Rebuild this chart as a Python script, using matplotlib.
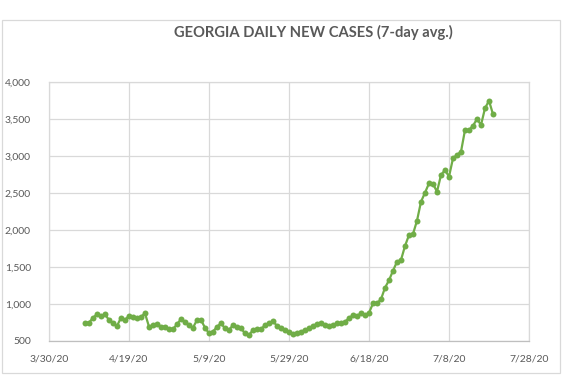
import matplotlib
matplotlib.use("Agg")
import matplotlib.pyplot as plt
import pandas as pd
from matplotlib.patches import Rectangle

plt.rcParams['font.family'] = ['Lato', 'DejaVu Sans']

# 7-day average of new cases, one value per day from 4/8/20
start_date = "2020-04-08"
cases = [747, 747, 815, 860, 838, 860, 784, 739, 703, 815,
         784, 842, 820, 806, 828, 874, 693, 716, 729, 693,
         693, 662, 662, 725, 797, 755, 720, 680, 784, 784,
         680, 604, 626, 693, 739, 671, 649, 716, 693, 671,
         604, 581, 649, 658, 658, 716, 739, 770, 703, 671,
         655, 626, 595, 612, 626, 649, 671, 707, 730, 747,
         716, 707, 716, 739, 739, 761, 807, 851, 838, 874,
         851, 880, 1009, 1009, 1064, 1220, 1320, 1450, 1571, 1595,
         1784, 1932, 1946, 2126, 2382, 2504, 2631, 2622, 2518, 2743,
         2811, 2720, 2969, 3014, 3058, 3351, 3351, 3409, 3500, 3419,
         3645, 3747, 3564]

tick_dates = ["2020-03-30", "2020-04-19", "2020-05-09", "2020-05-29",
              "2020-06-18", "2020-07-08", "2020-07-28"]
tick_labels = ["3/30/20", "4/19/20", "5/9/20", "5/29/20",
               "6/18/20", "7/8/20", "7/28/20"]
y_ticks = [500, 1000, 1500, 2000, 2500, 3000, 3500, 4000]

title = "GEORGIA DAILY NEW CASES (7-day avg.)"

dates = pd.date_range(start_date, periods=len(cases), freq="D")
ticks = pd.to_datetime(tick_dates)

green = "#70AD47"
grid = "#D9D9D9"
txt = "#595959"

fig = plt.figure(figsize=(5.70, 3.81), dpi=100)
fig.patches.append(Rectangle((2 / 570, 1 - 373 / 381), 558 / 570, 353 / 381,
                             transform=fig.transFigure, fill=False,
                             edgecolor=grid, linewidth=0.9))

ax = fig.add_axes([49 / 570, 40 / 381, 480 / 570, 259 / 381])
ax.plot(dates, cases, color=green, linewidth=1.6, marker="o",
        markersize=4.3, markeredgewidth=0, zorder=3)

ax.set_xlim(ticks[0], ticks[-1])
ax.set_ylim(y_ticks[0], y_ticks[-1])
ax.set_xticks(ticks)
ax.set_xticklabels(tick_labels)
ax.set_yticks(y_ticks)
ax.set_yticklabels([f"{v:,}" for v in y_ticks])

ax.grid(True, color=grid, linewidth=0.9)
ax.set_axisbelow(True)
for s in ax.spines.values():
    s.set_color(grid)
    s.set_linewidth(0.9)
ax.spines['bottom'].set_color("#BFBFBF")
ax.tick_params(length=0, labelsize=7.5, labelcolor=txt)
ax.tick_params(axis='y', pad=13)
ax.tick_params(axis='x', pad=10)

fig.text(313 / 570, 1 - 32 / 381, title, ha="center", va="center",
         fontsize=10.6, fontweight="bold", color=txt)

fig.savefig("out.png", dpi=100)
